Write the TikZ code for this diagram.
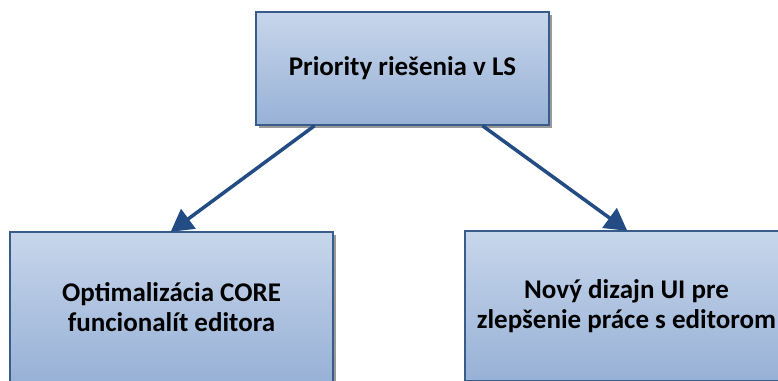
\documentclass[tikz,border=0pt]{standalone}
\usepackage{fontspec}
\setmainfont{Carlito}
\usepackage{tikz}
\usetikzlibrary{shapes,arrows.meta,positioning,shadows}
\definecolor{boxtop}{RGB}{199,214,235}
\definecolor{boxbottom}{RGB}{151,177,214}
\definecolor{boxline}{RGB}{56,93,138}
\definecolor{arrowblue}{RGB}{35,76,132}
\tikzstyle{blueblock}=[rectangle, draw=boxline, line width=1.5pt, align=center, top color=boxtop, bottom color=boxbottom, drop shadow={shadow xshift=3pt, shadow yshift=-3pt, fill=black!40, opacity=1}, font=\fontsize{27}{30}\selectfont\bfseries]
\tikzstyle{bluearrow}=[-{Triangle[length=22pt,width=24pt]}, draw=arrowblue, fill=arrowblue, line width=3.5pt, shorten >=-1pt]

\begin{document}
\begin{tikzpicture}[x=1pt,y=-1pt]

\clip (0,0) rectangle (778,380);
\fill[white] (0,0) rectangle (778,380);

\node[blueblock, minimum width=293pt, minimum height=113pt] (prio) at (402.5,68.5) {Priority riešenia v LS};
\node[blueblock, minimum width=323pt, minimum height=150pt] (core) at (171.5,307) {Optimalizácia CORE\\funcionalít editora};
\node[blueblock, minimum width=323pt, minimum height=150pt] (ui) at (626.5,306) {Nový dizajn UI pre\\zlepšenie práce s editorom};

\draw[bluearrow] ([xshift=-88pt]prio.south) -- (core.north);
\draw[bluearrow] ([xshift=80pt]prio.south) -- (ui.north);

\end{tikzpicture}
\end{document}
